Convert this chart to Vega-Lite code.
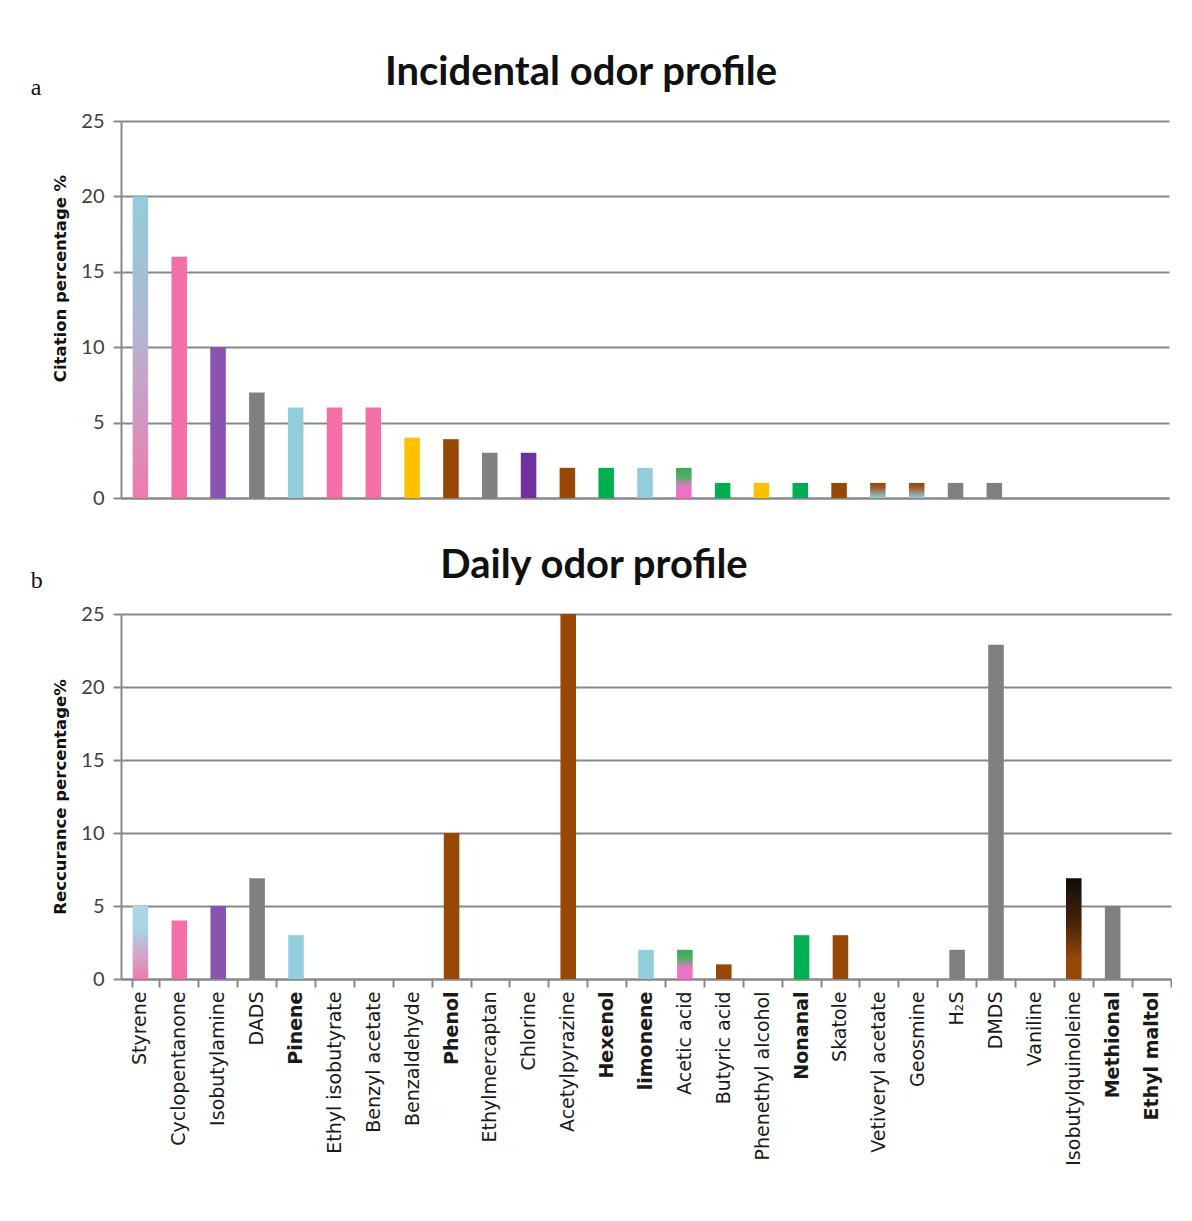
{
  "$schema": "https://vega.github.io/schema/vega-lite/v6.json",
  "background": "white",
  "padding": {"left": 30, "top": 53, "right": 0, "bottom": 0},
  "spacing": 38,
  "config": {
    "font": "Lato",
    "view": {"stroke": null},
    "axis": {
      "domainColor": "#888888",
      "domainWidth": 2,
      "gridColor": "#888888",
      "gridWidth": 2,
      "tickColor": "#888888",
      "tickWidth": 2,
      "tickSize": 8,
      "labelFont": "Lato",
      "labelFontSize": 20,
      "labelColor": "#404040",
      "titleFont": "DejaVu Sans",
      "titleFontSize": 16.5,
      "titleFontWeight": "bold",
      "titleColor": "#111111"
    },
    "title": {"font": "Lato", "fontSize": 40, "fontWeight": "bold", "color": "#111111"}
  },
  "datasets": {
    "incidental": [
      {"rank": 1, "pct": 20, "family": "light blue/pink"},
      {"rank": 2, "pct": 16, "family": "pink"},
      {"rank": 3, "pct": 10, "family": "purple"},
      {"rank": 4, "pct": 7, "family": "gray"},
      {"rank": 5, "pct": 6, "family": "light blue"},
      {"rank": 6, "pct": 6, "family": "pink"},
      {"rank": 7, "pct": 6, "family": "pink"},
      {"rank": 8, "pct": 4, "family": "yellow"},
      {"rank": 9, "pct": 3.9, "family": "brown"},
      {"rank": 10, "pct": 3, "family": "gray"},
      {"rank": 11, "pct": 3, "family": "dark purple"},
      {"rank": 12, "pct": 2, "family": "brown"},
      {"rank": 13, "pct": 2, "family": "green"},
      {"rank": 14, "pct": 2, "family": "light blue"},
      {"rank": 15, "pct": 2, "family": "green/pink"},
      {"rank": 16, "pct": 1, "family": "green"},
      {"rank": 17, "pct": 1, "family": "yellow"},
      {"rank": 18, "pct": 1, "family": "green"},
      {"rank": 19, "pct": 1, "family": "brown"},
      {"rank": 20, "pct": 1, "family": "brown/light blue"},
      {"rank": 21, "pct": 1, "family": "brown/light blue"},
      {"rank": 22, "pct": 1, "family": "gray"},
      {"rank": 23, "pct": 1, "family": "gray"}
    ],
    "daily": [
      {"compound": "Styrene", "pct": 5, "family": "light blue/pink"},
      {"compound": "Cyclopentanone", "pct": 4, "family": "pink"},
      {"compound": "Isobutylamine", "pct": 5, "family": "purple"},
      {"compound": "DADS", "pct": 6.9, "family": "gray"},
      {"compound": "Pinene", "pct": 3, "family": "light blue"},
      {"compound": "Ethyl isobutyrate", "pct": 0, "family": "none"},
      {"compound": "Benzyl acetate", "pct": 0, "family": "none"},
      {"compound": "Benzaldehyde", "pct": 0, "family": "none"},
      {"compound": "Phenol", "pct": 10, "family": "brown"},
      {"compound": "Ethylmercaptan", "pct": 0, "family": "none"},
      {"compound": "Chlorine", "pct": 0, "family": "none"},
      {"compound": "Acetylpyrazine", "pct": 25, "family": "brown"},
      {"compound": "Hexenol", "pct": 0, "family": "none"},
      {"compound": "limonene", "pct": 2, "family": "light blue"},
      {"compound": "Acetic acid", "pct": 2, "family": "green/pink"},
      {"compound": "Butyric acid", "pct": 1, "family": "brown"},
      {"compound": "Phenethyl alcohol", "pct": 0, "family": "none"},
      {"compound": "Nonanal", "pct": 3, "family": "green"},
      {"compound": "Skatole", "pct": 3, "family": "brown"},
      {"compound": "Vetiveryl acetate", "pct": 0, "family": "none"},
      {"compound": "Geosmine", "pct": 0, "family": "none"},
      {"compound": "H₂S", "pct": 2, "family": "gray"},
      {"compound": "DMDS", "pct": 22.9, "family": "gray"},
      {"compound": "Vaniline", "pct": 0, "family": "none"},
      {"compound": "Isobutylquinoleine", "pct": 6.9, "family": "black/brown"},
      {"compound": "Methional", "pct": 5, "family": "gray"},
      {"compound": "Ethyl maltol", "pct": 0, "family": "none"}
    ]
  },
  "vconcat": [
    {
      "title": {"text": "a", "anchor": "start", "font": "Liberation Serif", "fontSize": 24, "fontWeight": "normal", "offset": 0, "dy": 47, "dx": -22},
      "vconcat": [
        {
          "width": 1048,
          "height": 377,
          "title": {"text": "Incidental odor profile", "dx": -64, "offset": 18},
          "data": {"name": "incidental"},
          "encoding": {
            "x": {
              "field": "rank", "type": "ordinal",
              "scale": {"domain": [1,2,3,4,5,6,7,8,9,10,11,12,13,14,15,16,17,18,19,20,21,22,23,24,25,26,27], "paddingInner": 0.6, "paddingOuter": 0.3},
              "axis": {"title": null, "labels": false, "ticks": false}
            },
            "y": {
              "field": "pct", "type": "quantitative",
              "scale": {"domain": [0, 25]},
              "axis": {"title": "Citation percentage %", "values": [0, 5, 10, 15, 20, 25], "labelPadding": 9, "titlePadding": 12, "titleY": 157}
            }
          },
          "layer": [
            {
              "transform": [{"filter": {"field": "family", "oneOf": ["pink", "purple", "gray", "light blue", "yellow", "brown", "dark purple", "green"]}}],
              "mark": "bar",
              "encoding": {
                "color": {
                  "field": "family", "type": "nominal", "legend": null,
                  "scale": {"domain": ["pink", "purple", "gray", "light blue", "yellow", "brown", "dark purple", "green"],
                            "range": ["#F56FA7", "#8B53B0", "#808080", "#92CDDC", "#FFC000", "#974806", "#7030A0", "#00B050"]}
                }
              }
            },
            {
              "transform": [{"filter": {"field": "family", "equal": "light blue/pink"}}],
              "mark": {"type": "bar", "color": {"gradient": "linear", "x1": 0, "y1": 0, "x2": 0, "y2": 1,
                "stops": [{"offset": 0, "color": "#92CDDC"}, {"offset": 0.45, "color": "#B2B6D2"}, {"offset": 1, "color": "#F07AAE"}]}}
            },
            {
              "transform": [{"filter": {"field": "family", "equal": "green/pink"}}],
              "mark": {"type": "bar", "color": {"gradient": "linear", "x1": 0, "y1": 0, "x2": 0, "y2": 1,
                "stops": [{"offset": 0, "color": "#3AAA58"}, {"offset": 0.3, "color": "#4FAE66"}, {"offset": 0.6, "color": "#E07ABE"}, {"offset": 1, "color": "#FF66CC"}]}}
            },
            {
              "transform": [{"filter": {"field": "family", "equal": "brown/light blue"}}],
              "mark": {"type": "bar", "color": {"gradient": "linear", "x1": 0, "y1": 0, "x2": 0, "y2": 1,
                "stops": [{"offset": 0, "color": "#974806"}, {"offset": 0.3, "color": "#9C5A2C"}, {"offset": 1, "color": "#92CDDC"}]}}
            }
          ]
        }
      ]
    },
    {
      "title": {"text": "b", "anchor": "start", "font": "Liberation Serif", "fontSize": 24, "fontWeight": "normal", "offset": 0, "dy": 47, "dx": -22},
      "vconcat": [
        {
          "width": 1050,
          "height": 365,
          "title": {"text": "Daily odor profile", "dx": -52, "offset": 18},
          "data": {"name": "daily"},
          "encoding": {
            "x": {
              "field": "compound", "type": "nominal",
              "scale": {"domain": ["Styrene", "Cyclopentanone", "Isobutylamine", "DADS", "Pinene", "Ethyl isobutyrate", "Benzyl acetate", "Benzaldehyde", "Phenol", "Ethylmercaptan", "Chlorine", "Acetylpyrazine", "Hexenol", "limonene", "Acetic acid", "Butyric acid", "Phenethyl alcohol", "Nonanal", "Skatole", "Vetiveryl acetate", "Geosmine", "H₂S", "DMDS", "Vaniline", "Isobutylquinoleine", "Methional", "Ethyl maltol"],
                        "paddingInner": 0.6, "paddingOuter": 0.3},
              "axis": {
                "title": null, "labelAngle": -90, "labelFont": "DejaVu Sans", "labelFontSize": 19, "labelColor": "#1a1a1a",
                "labelPadding": 4, "bandPosition": 1.75, "tickExtra": true,
                "labelFontWeight": {"condition": {"test": "indexof(['Pinene','Phenol','Hexenol','limonene','Nonanal','Methional','Ethyl maltol'], datum.value) >= 0", "value": "bold"}, "value": "normal"}
              }
            },
            "y": {
              "field": "pct", "type": "quantitative",
              "scale": {"domain": [0, 25]},
              "axis": {"title": "Reccurance percentage%", "values": [0, 5, 10, 15, 20, 25], "labelPadding": 9, "titlePadding": 12}
            }
          },
          "layer": [
            {
              "transform": [{"filter": {"field": "family", "oneOf": ["pink", "purple", "gray", "light blue", "yellow", "brown", "dark purple", "green"]}}],
              "mark": "bar",
              "encoding": {
                "color": {
                  "field": "family", "type": "nominal", "legend": null,
                  "scale": {"domain": ["pink", "purple", "gray", "light blue", "yellow", "brown", "dark purple", "green"],
                            "range": ["#F56FA7", "#8B53B0", "#808080", "#92CDDC", "#FFC000", "#974806", "#7030A0", "#00B050"]}
                }
              }
            },
            {
              "transform": [{"filter": {"field": "family", "equal": "light blue/pink"}}],
              "mark": {"type": "bar", "color": {"gradient": "linear", "x1": 0, "y1": 0, "x2": 0, "y2": 1,
                "stops": [{"offset": 0, "color": "#A9D8E6"}, {"offset": 0.35, "color": "#AAD2E2"}, {"offset": 0.65, "color": "#D0A8CA"}, {"offset": 1, "color": "#EE7AAE"}]}}
            },
            {
              "transform": [{"filter": {"field": "family", "equal": "green/pink"}}],
              "mark": {"type": "bar", "color": {"gradient": "linear", "x1": 0, "y1": 0, "x2": 0, "y2": 1,
                "stops": [{"offset": 0, "color": "#3AAA58"}, {"offset": 0.3, "color": "#4FAE66"}, {"offset": 0.6, "color": "#E07ABE"}, {"offset": 1, "color": "#FF66CC"}]}}
            },
            {
              "transform": [{"filter": {"field": "family", "equal": "black/brown"}}],
              "mark": {"type": "bar", "color": {"gradient": "linear", "x1": 0, "y1": 0, "x2": 0, "y2": 1,
                "stops": [{"offset": 0, "color": "#0D0D0D"}, {"offset": 0.45, "color": "#4A2206"}, {"offset": 0.8, "color": "#974806"}, {"offset": 1, "color": "#974806"}]}}
            }
          ]
        }
      ]
    }
  ]
}
